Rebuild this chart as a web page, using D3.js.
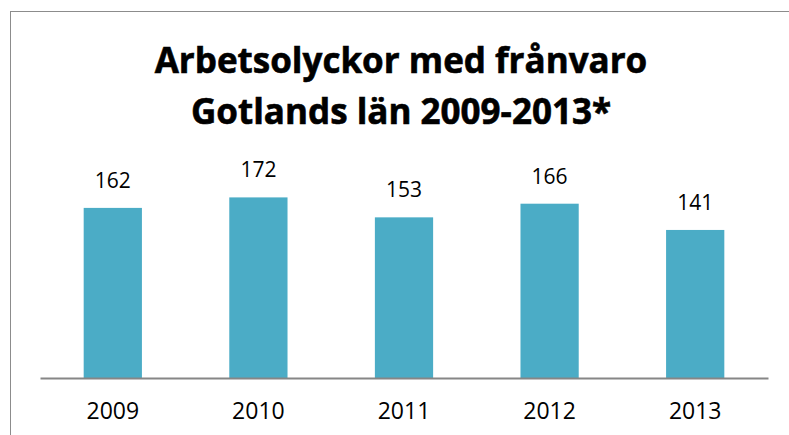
<!DOCTYPE html>
<html>
<head>
<meta charset="utf-8">
<script src="https://cdn.jsdelivr.net/npm/d3@7"></script>
<style>
  body { margin: 0; background: #fff; }
  text { font-family: "Open Sans", sans-serif; fill: #000; }
</style>
</head>
<body>
<svg id="chart" width="789" height="435"></svg>
<script>
const years = ["2009", "2010", "2011", "2012", "2013"];
const accidents = [162, 172, 153, 166, 141];
const titleLines = ["Arbetsolyckor med frånvaro", "Gotlands län 2009-2013*"];

const width = 789,
  height = 435;
const plot = { left: 40, right: 768, top: 168, bottom: 378 };

const svg = d3.select("#chart");

// outer chart frame (runs off the right/bottom edge)
svg
  .append("rect")
  .attr("x", 10.5)
  .attr("y", 11.5)
  .attr("width", 800)
  .attr("height", 440)
  .attr("fill", "#fff")
  .attr("stroke", "#8c8c8c")
  .attr("stroke-width", 1);

const x = d3
  .scaleBand()
  .domain(years)
  .range([plot.left, plot.right])
  .paddingInner(0.6)
  .paddingOuter(0.3);

const y = d3.scaleLinear().domain([0, 200]).range([plot.bottom, plot.top]);

svg
  .append("g")
  .selectAll("text")
  .data(titleLines)
  .join("text")
  .attr("x", 401)
  .attr("y", (d, i) => 73 + i * 51)
  .attr("text-anchor", "middle")
  .style("font-weight", "bold")
  .style("font-size", "35px")
  .style("stroke", "#000")
  .style("stroke-width", 0.6)
  .text((d) => d);

svg
  .selectAll(".bar")
  .data(accidents)
  .join("rect")
  .attr("class", "bar")
  .attr("x", (d, i) => x(years[i]))
  .attr("y", (d) => y(d))
  .attr("width", x.bandwidth())
  .attr("height", (d) => y(0) - y(d))
  .attr("fill", "#4bacc6");

svg
  .selectAll(".value")
  .data(accidents)
  .join("text")
  .attr("class", "value")
  .attr("x", (d, i) => x(years[i]) + x.bandwidth() / 2)
  .attr("y", (d) => y(d) - 20)
  .attr("text-anchor", "middle")
  .style("font-size", "21px")
  .text((d) => d);

const xAxis = svg
  .append("g")
  .attr("transform", `translate(0,${plot.bottom})`)
  .call(d3.axisBottom(x).tickSize(0).tickPadding(25).tickSizeOuter(0));

xAxis.select(".domain").attr("stroke", "#868686").attr("stroke-width", 2);
xAxis
  .selectAll("text")
  .style("font-family", "'Open Sans', sans-serif")
  .style("font-size", "23px")
  .attr("fill", "#000");
</script>
</body>
</html>
